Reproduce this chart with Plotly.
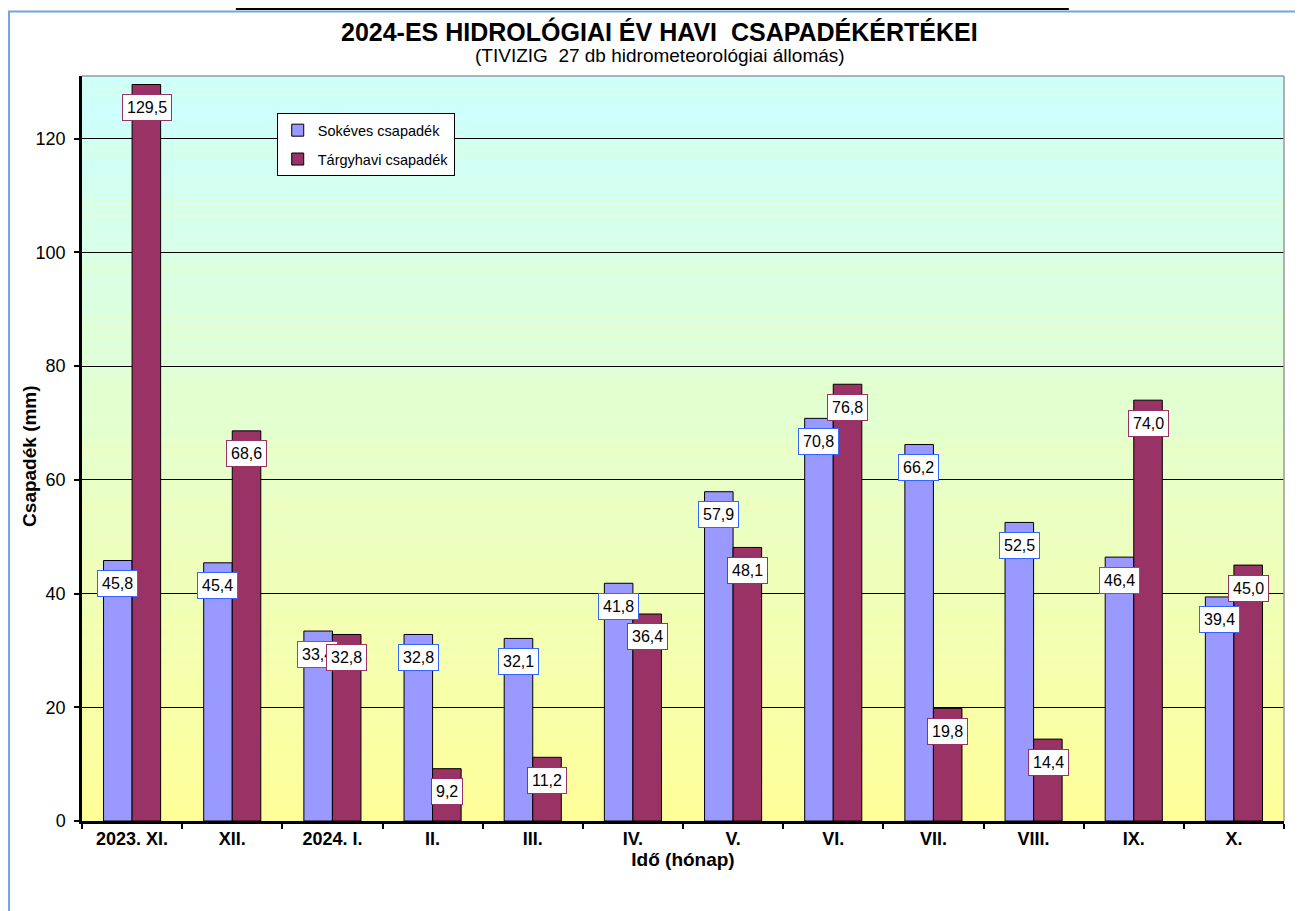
import plotly.graph_objects as go

months = ["2023. XI.", "XII.", "2024. I.", "II.", "III.", "IV.", "V.", "VI.", "VII.", "VIII.", "IX.", "X."]
sokeves = [45.8, 45.4, 33.4, 32.8, 32.1, 41.8, 57.9, 70.8, 66.2, 52.5, 46.4, 39.4]
targyhavi = [129.5, 68.6, 32.8, 9.2, 11.2, 36.4, 48.1, 76.8, 19.8, 14.4, 74.0, 45.0]
y_ticks = [0, 20, 40, 60, 80, 100, 120]

blue = "#9999FF"
wine = "#993366"
font = "Arial, Liberation Sans, sans-serif"

fig = go.Figure()
fig.add_trace(go.Bar(x=months, y=sokeves, name="Sokéves csapadék", legendgroup="a",
                     marker=dict(color=blue, line=dict(color="black", width=1))))
fig.add_trace(go.Bar(x=months, y=targyhavi, name="Tárgyhavi csapadék", legendgroup="b",
                     marker=dict(color=wine, line=dict(color="black", width=1))))


def fmt(v):
    return f"{v:.1f}".replace(".", ",")


# data labels (blue first, so the wine ones sit on top)
for vals, shift, border in [(sokeves, -14.5, "#3366FF"), (targyhavi, 14.5, wine)]:
    for m, v in zip(months, vals):
        fig.add_annotation(x=m, y=v, text=fmt(v), showarrow=False, xshift=shift, yshift=-23,
                           bgcolor="white", bordercolor=border, borderwidth=1, borderpad=4,
                           font=dict(family=font, size=16, color="black"))

# gradient background: cyan top -> yellow bottom
n = 120
top = (0xCC, 0xFF, 0xFF)
bot = (0xFF, 0xFF, 0x99)
for i in range(n):
    t = i / (n - 1)
    c = tuple(round(bot[k] + (top[k] - bot[k]) * t) for k in range(3))
    fig.add_shape(type="rect", xref="paper", yref="paper", x0=0, x1=1, y0=i / n, y1=(i + 1) / n,
                  fillcolor="rgb(%d,%d,%d)" % c, line=dict(width=0), layer="below")

# plot area top/right border
fig.add_shape(type="line", xref="paper", yref="paper", x0=0, x1=1, y0=1, y1=1,
              line=dict(color="#999999", width=1.5))
fig.add_shape(type="line", xref="paper", yref="paper", x0=1, x1=1, y0=0, y1=1,
              line=dict(color="#999999", width=1.5))

# outer frame and black bar at the top
fig.add_shape(type="rect", xref="paper", yref="paper", x0=-0.0607, x1=1.0133, y0=-0.2, y1=1.0866,
              line=dict(color="#6FA8DC", width=2))
fig.add_shape(type="rect", xref="paper", yref="paper", x0=0.128, x1=0.821, y0=1.0885, y1=1.0925,
              fillcolor="black", line=dict(width=0))

# title and subtitle
fig.add_annotation(text="<b>2024-ES HIDROLÓGIAI ÉV HAVI  CSAPADÉKÉRTÉKEI</b>", xref="paper", yref="paper",
                   x=0.4805, y=1.0604, showarrow=False, yanchor="middle",
                   font=dict(family=font, size=25, color="black"))
fig.add_annotation(text="(TIVIZIG  27 db hidrometeorológiai állomás)", xref="paper", yref="paper",
                   x=0.4805, y=1.028, showarrow=False, yanchor="middle",
                   font=dict(family=font, size=19, color="black"))

# y axis title
fig.add_annotation(text="<b>Csapadék (mm)</b>", xref="paper", yref="paper", x=-0.0433, y=0.49,
                   showarrow=False, textangle=-90, xanchor="center", yanchor="middle",
                   font=dict(family=font, size=19, color="black"))

fig.update_layout(
    width=1295, height=903,
    margin=dict(l=74, r=19, t=68, b=90),
    paper_bgcolor="white",
    plot_bgcolor="#FFFF99",
    barmode="group", bargap=0.43, bargroupgap=0,
    showlegend=True,
    legend=dict(x=0.162, y=0.95, xanchor="left", yanchor="top",
                bgcolor="white", bordercolor="black", borderwidth=1,
                font=dict(family=font, size=14.5, color="black"),
                traceorder="grouped", tracegroupgap=7, itemwidth=30),
    font=dict(family=font, color="black"),
)

fig.update_xaxes(showline=True, linecolor="black", linewidth=2.5,
                 ticks="outside", tickson="boundaries", ticklen=5, tickcolor="black", tickwidth=2,
                 tickfont=dict(family=font, size=18, color="black", weight="bold"),
                 title=dict(text="<b>Idő (hónap)</b>", font=dict(family=font, size=19, color="black"),
                            standoff=4),
                 showgrid=False)
fig.update_yaxes(range=[0, 131], tickvals=y_ticks, showline=True, linecolor="black", linewidth=2.5,
                 ticks="outside", ticklen=5, tickcolor="black", tickwidth=2, ticklabelstandoff=5,
                 tickfont=dict(family=font, size=18, color="black"),
                 showgrid=True, gridcolor="black", gridwidth=1, zeroline=False)

fig.write_html("out.html")
